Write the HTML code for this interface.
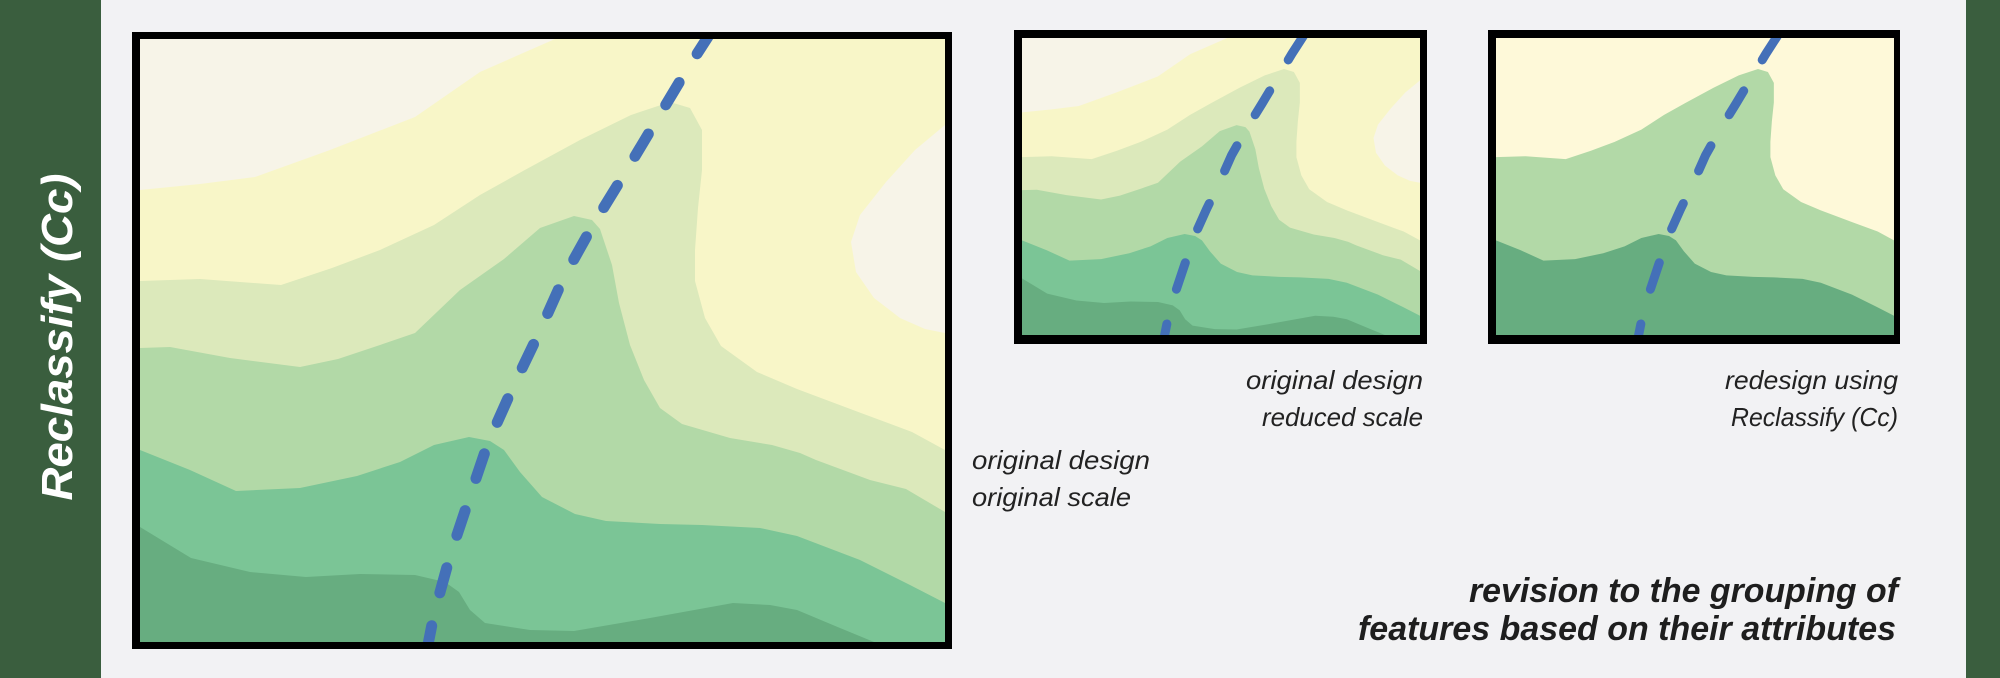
<!DOCTYPE html>
<html><head><meta charset="utf-8"><style>
html,body{margin:0;padding:0;background:#f2f2f4;}
svg{display:block;}
</style></head><body>
<svg width="2000" height="678" viewBox="0 0 2000 678" xmlns="http://www.w3.org/2000/svg">
<defs>
<clipPath id="c"><rect x="140" y="39" width="805" height="603"/></clipPath>
<g id="origfill">
  <rect x="140" y="39" width="805" height="603" fill="#f7f4e8"/>
  <path fill="#f8f6c8" d="M555,39 L945,39 L945,642 L140,642 L140,190 L200,184 L255,177 L330,150 L415,117 L480,72 Z"/>
  <path fill="#f7f4e8" d="M945,125 L915,150 L886,182 L860,215 L851,242 L856,272 L874,298 L900,318 L925,329 L945,333 Z"/>
  <path fill="#dce9bb" d="M140,281 L200,279 L281,285 L332,268 L380,250 L434,225 L480,195 L523,171 L580,140 L631,115 L670,102 L690,108 L702,130 L702,170 L698,208 L695,250 L695,281 L705,318 L721,346 L757,372 L797,389 L861,413 L912,432 L945,450 L945,642 L140,642 Z"/>
  <path fill="#b2d9a7" d="M140,348 L170,347 L230,358 L300,367 L338,359 L380,345 L415,333 L460,290 L504,259 L540,228 L574,216 L592,220 L600,229 L612,265 L619,303 L630,345 L644,380 L660,408 L682,424 L730,438 L772,445 L800,453 L816,460 L870,480 L906,489 L945,512 L945,642 L140,642 Z"/>
  <path fill="#7bc596" d="M140,450 L190,470 L236,491 L300,488 L357,476 L400,462 L434,445 L469,437 L490,441 L504,450 L520,472 L542,497 L575,514 L606,521 L660,524 L702,525 L760,528 L797,536 L860,560 L910,585 L945,603 L945,642 L140,642 Z"/>
  <path fill="#67ad80" d="M140,527 L191,558 L250,572 L306,577 L360,574 L415,575 L445,582 L459,592 L470,610 L485,623 L530,630 L574,631 L650,618 L733,603 L770,605 L797,610 L840,628 L874,642 L140,642 Z"/>
</g>
<g id="redesfill">
  <rect x="140" y="39" width="805" height="603" fill="#fef9d9"/>
  <path fill="#b2d9a7" d="M140,281 L200,279 L281,285 L332,268 L380,250 L434,225 L480,195 L523,171 L580,140 L631,115 L670,102 L690,108 L702,130 L702,170 L698,208 L695,250 L695,281 L705,318 L721,346 L757,372 L797,389 L861,413 L912,432 L945,450 L945,642 L140,642 Z"/>
  <path fill="#67ad80" d="M140,450 L190,470 L236,491 L300,488 L357,476 L400,462 L434,445 L469,437 L490,441 L504,450 L520,472 L542,497 L575,514 L606,521 L660,524 L702,525 L760,528 L797,536 L860,560 L910,585 L945,603 L945,642 L140,642 Z"/>
</g>
<clipPath id="c2"><rect x="1022" y="38" width="398" height="297"/></clipPath>
<clipPath id="c3"><rect x="1496" y="38" width="398" height="297"/></clipPath>
</defs>

<rect x="0" y="0" width="2000" height="678" fill="#f2f2f4"/>
<rect x="0" y="0" width="101" height="678" fill="#3a5e3e"/>
<rect x="1966" y="0" width="34" height="678" fill="#3a5e3e"/>

<text transform="translate(72,337) rotate(-90)" text-anchor="middle" font-family="Liberation Sans, sans-serif" font-weight="bold" font-style="italic" font-size="44" fill="#ffffff" textLength="327" lengthAdjust="spacingAndGlyphs">Reclassify (Cc)</text>

<!-- main map -->
<rect x="132" y="32" width="820" height="617" fill="#000"/>
<g clip-path="url(#c)">
  <use href="#origfill"/>
  <path fill="none" stroke="#4470b8" stroke-width="11" stroke-linecap="round" stroke-dasharray="26 34" stroke-dashoffset="-20" d="M722,15 L686,71 L625,173 L593,225 L564,277 L539,333 L513,387 L488,443 L469,499 L450,556 L434,614 L425,660"/>
</g>

<!-- reduced -->
<rect x="1014" y="30" width="413" height="314" fill="#000"/>
<g clip-path="url(#c2)">
  <use href="#origfill" transform="translate(1022,38) scale(0.4944,0.4925) translate(-140,-39)"/>
  <path fill="none" stroke="#4470b8" stroke-width="9" stroke-linecap="round" stroke-dasharray="28 36" stroke-dashoffset="-12" d="M1309.7,26.2 L1291.9,53.8 L1261.8,104 L1246,129.6 L1231.6,155.2 L1219.3,182.8 L1206.4,209.4 L1194,237 L1184.7,264.5 L1175.3,292.6 L1167.4,321.2 L1162.9,343.8"/>
</g>

<!-- redesign -->
<rect x="1488" y="30" width="412" height="314" fill="#000"/>
<g clip-path="url(#c3)">
  <use href="#redesfill" transform="translate(1496,38) scale(0.4944,0.4925) translate(-140,-39)"/>
  <path fill="none" stroke="#4470b8" stroke-width="9" stroke-linecap="round" stroke-dasharray="28 36" stroke-dashoffset="-12" transform="translate(474,0)" d="M1309.7,26.2 L1291.9,53.8 L1261.8,104 L1246,129.6 L1231.6,155.2 L1219.3,182.8 L1206.4,209.4 L1194,237 L1184.7,264.5 L1175.3,292.6 L1167.4,321.2 L1162.9,343.8"/>
</g>

<g font-family="Liberation Sans, sans-serif" font-style="italic" font-size="26" fill="#222">
  <text x="1423" y="389" text-anchor="end" textLength="177" lengthAdjust="spacingAndGlyphs">original design</text>
  <text x="1423" y="426" text-anchor="end" textLength="161" lengthAdjust="spacingAndGlyphs">reduced scale</text>
  <text x="1898" y="389" text-anchor="end" textLength="173" lengthAdjust="spacingAndGlyphs">redesign using</text>
  <text x="1898" y="426" text-anchor="end" textLength="167" lengthAdjust="spacingAndGlyphs">Reclassify (Cc)</text>
  <text x="972" y="469" textLength="178" lengthAdjust="spacingAndGlyphs">original design</text>
  <text x="972" y="506" textLength="159" lengthAdjust="spacingAndGlyphs">original scale</text>
</g>
<g font-family="Liberation Sans, sans-serif" font-style="italic" font-weight="bold" font-size="34" fill="#1e1e1e">
  <text x="1898" y="602" text-anchor="end" textLength="429" lengthAdjust="spacingAndGlyphs">revision to the grouping of</text>
  <text x="1896" y="640" text-anchor="end" textLength="538" lengthAdjust="spacingAndGlyphs">features based on their attributes</text>
</g>
</svg>
</body></html>
